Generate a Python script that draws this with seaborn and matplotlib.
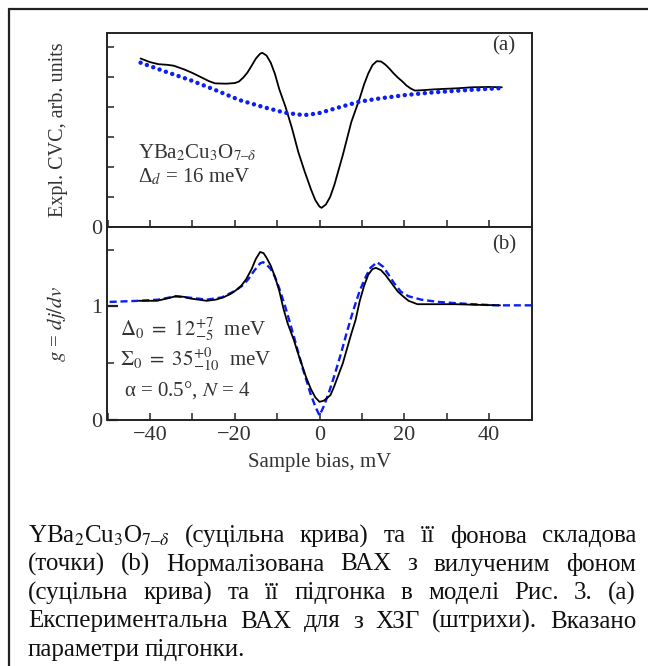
import numpy as np
import pandas as pd
import matplotlib
matplotlib.use("Agg")
import matplotlib.pyplot as plt
import seaborn as sns
from matplotlib.lines import Line2D
from matplotlib.ticker import MultipleLocator

# panel (a): experimental CVC and its background
bias_a = [-42.2, -40, -38, -36, -34.4, -32, -30, -28, -26, -24.6, -22, -20, -19, -18, -17, -16,
          -15, -14, -13.5, -12.5, -11.5, -10.5, -9.5, -8, -6.5, -5, -3.5, -2, -1, 0, 0.5, 1.5,
          2.5, 3.5, 4.5, 5.5, 6.5, 7.5, 8.5, 9.5, 10.5, 11.5, 12.5, 13.5, 14.5, 15.5, 16.5,
          17.5, 18.5, 19.5, 20.5, 21.5, 22.5, 24, 27, 30, 33, 36, 40, 43]
cvc_a = [5.62, 5.50, 5.43, 5.41, 5.38, 5.26, 5.14, 5.00, 4.86, 4.79, 4.78, 4.80, 4.85, 4.98,
         5.15, 5.38, 5.62, 5.78, 5.81, 5.72, 5.48, 5.10, 4.60, 4.00, 3.30, 2.50, 1.85, 1.25,
         0.90, 0.68, 0.64, 0.75, 1.00, 1.40, 1.90, 2.40, 2.95, 3.50, 3.90, 4.30, 4.75, 5.12,
         5.40, 5.53, 5.52, 5.42, 5.28, 5.12, 4.98, 4.86, 4.72, 4.62, 4.55, 4.56, 4.59, 4.61,
         4.63, 4.66, 4.67, 4.66]
bias_bg = [-42.2, -36.3, -30.5, -24.6, -18.8, -13, -8.1, -3.7, -0.3, 4.6, 9.4, 14.3, 20.2,
           26, 31.8, 37.7, 42.6]
cvc_bg = [5.48, 5.18, 4.90, 4.57, 4.23, 3.99, 3.81, 3.73, 3.79, 3.99, 4.18, 4.29, 4.40,
          4.48, 4.54, 4.59, 4.63]

# panel (b): normalized conductance and model fit
bias_b = [-42.6, -38.3, -36, -33.9, -32, -30.5, -28.5, -26.6, -24.5, -22.7, -21, -19.8, -18.5,
          -17.3, -16, -15, -14, -13.2, -12.5, -11.5, -10.5, -9.5, -8.5, -7.5, -6.1, -5, -4,
          -3.2, -2, -1, 0, 1, 2, 2.6, 3.5, 4.5, 5.5, 6.5, 7.5, 8.5, 9.5, 10.5, 11.5, 12.5,
          13.3, 14.5, 15.5, 16.5, 17.5, 18.5, 19.7, 21, 23.1, 27, 31.8, 37, 42.6]
g_b = [1.05, 1.05, 1.07, 1.09, 1.085, 1.07, 1.06, 1.05, 1.06, 1.08, 1.11, 1.14, 1.18, 1.24,
       1.33, 1.42, 1.48, 1.47, 1.43, 1.36, 1.26, 1.14, 0.98, 0.85, 0.71, 0.58, 0.47, 0.38,
       0.27, 0.20, 0.16, 0.17, 0.20, 0.22, 0.30, 0.40, 0.50, 0.63, 0.76, 0.88, 1.05, 1.18,
       1.28, 1.33, 1.34, 1.32, 1.28, 1.23, 1.18, 1.13, 1.09, 1.05, 1.02, 1.02, 1.02, 1.015,
       1.01]
bias_fit = [-49.5, -42.6, -38, -33.9, -30, -26.6, -23, -19.8, -18, -16.8, -15.5, -14, -13.3,
            -12.5, -11.5, -10.5, -9.5, -8.1, -7, -6, -5.2, -4, -3, -2.2, -1, 0, 1, 2.2, 3.5,
            5.1, 6.5, 8, 9.5, 10.9, 12, 13.6, 15, 16.3, 17.5, 19.2, 21, 24, 28, 31.8, 36,
            41.6, 49.9]
g_fit = [1.04, 1.05, 1.06, 1.09, 1.075, 1.06, 1.08, 1.14, 1.19, 1.24, 1.31, 1.38, 1.39, 1.37,
         1.33, 1.26, 1.16, 1.00, 0.86, 0.73, 0.62, 0.46, 0.34, 0.24, 0.12, 0.04, 0.12, 0.24,
         0.39, 0.59, 0.78, 0.97, 1.14, 1.26, 1.34, 1.39, 1.35, 1.28, 1.21, 1.13, 1.09, 1.06,
         1.04, 1.03, 1.02, 1.01, 1.01]

caption_lines = [
    "YBa$_2$Cu$_3$O$_{7–δ}$ (суцільна крива) та її фонова складова",
    "(точки) (b) Нормалізована ВАХ з вилученим фоном",
    "(суцільна крива) та її підгонка в моделі Рис. 3. (a)",
    "Експериментальна ВАХ для з ХЗГ (штрихи). Вказано",
    "параметри підгонки.",
]

sns.set_style("ticks")
plt.rcParams["font.family"] = ["Liberation Serif", "DejaVu Serif"]
plt.rcParams["mathtext.fontset"] = "stix"

W, H = 648, 666
fig = plt.figure(figsize=(W / 100, H / 100), dpi=100)
fig.patch.set_facecolor("white")

ax_a = fig.add_axes([107.5 / W, 1 - 227 / H, 424 / W, 194 / H])
ax_b = fig.add_axes([107.5 / W, 1 - 420 / H, 424 / W, 193 / H])

blue = "#0a1ef5"
sns.lineplot(x=bias_a, y=cvc_a, ax=ax_a, color="black", lw=1.3, sort=False, estimator=None)
sns.lineplot(x=bias_bg, y=cvc_bg, ax=ax_a, color=blue, lw=3.2, sort=False, estimator=None,
             linestyle=(0, (0.01, 1.5)), dash_capstyle="round")
sns.lineplot(x=bias_fit, y=g_fit, ax=ax_b, color=blue, lw=1.7, sort=False, estimator=None,
             linestyle=(0, (3, 1.6)))
sns.lineplot(x=bias_b, y=g_b, ax=ax_b, color="black", lw=1.3, sort=False, estimator=None)

for ax in (ax_a, ax_b):
    ax.set_xlim(-50, 50)
    for s in ax.spines.values():
        s.set_visible(True)
        s.set_linewidth(1.4)
        s.set_color("#222222")
    ax.tick_params(direction="in", length=5, width=1.1, labelsize=16, colors="#222222",
                   labelcolor="#333333", pad=4)
    ax.tick_params(which="minor", direction="in", length=5, width=1.1)
    ax.xaxis.set_minor_locator(MultipleLocator(10))

ax_a.set_ylim(0, 6.47)
ax_a.set_yticks(range(7))
ax_a.set_yticklabels(["0"] + [""] * 6)
ax_a.set_xticks([-40, -20, 0, 20, 40])
ax_a.set_xticklabels([])
ax_a.set_xlabel("")
ax_a.set_ylabel("Expl. CVC, arb. units", fontsize=14.5, color="#333333")
ax_a.yaxis.set_label_coords(-0.093, 0.5)

ax_b.set_ylim(0, 1.70)
ax_b.set_yticks([0, 1])
ax_b.yaxis.set_minor_locator(MultipleLocator(0.5))
ax_b.tick_params(axis="y", which="major", length=8, width=1.6)
ax_b.set_xticks([-40, -20, 0, 20, 40])
ax_b.set_xticklabels(["−40", "−20", "0", "20", "40"])
ax_b.set_xlabel("Sample bias, mV", fontsize=15, color="#333333")
ax_b.xaxis.set_label_coords(0.5, -0.17)
ax_b.set_ylabel("$g$ = $dj/dv$", fontsize=15, color="#333333")
ax_b.yaxis.set_label_coords(-0.093, 0.5)

txt = dict(fontsize=15, color="#333333")
ax_a.text(0.935, 0.935, "(a)", transform=ax_a.transAxes, ha="center", va="center", **txt)
ax_b.text(0.935, 0.905, "(b)", transform=ax_b.transAxes, ha="center", va="center", **txt)
ax_a.text(0.072, 0.38, "YBa$_2$Cu$_3$O$_{7–δ}$", transform=ax_a.transAxes,
          ha="left", va="center", **txt)
ax_a.text(0.072, 0.26, "Δ$_{d}$ = 16 meV", transform=ax_a.transAxes,
          ha="left", va="center", **txt)
ax_b.text(0.03, 0.466, r"$\Delta_0\ =\ 12^{+7}_{-5}$  meV", transform=ax_b.transAxes,
          ha="left", va="center", **txt)
ax_b.text(0.03, 0.31, r"$\Sigma_0\ =\ 35^{+0}_{-10}$  meV", transform=ax_b.transAxes,
          ha="left", va="center", **txt)
ax_b.text(0.04, 0.155, "α = 0.5°, $N$ = 4", transform=ax_b.transAxes,
          ha="left", va="center", **txt)

# page frame (left and top rule)
fig.add_artist(Line2D([8.5 / W, 8.5 / W], [0, 1 - 8.5 / H], color="#222222", lw=1.6))
fig.add_artist(Line2D([8.5 / W, 1], [1 - 8.5 / H, 1 - 8.5 / H], color="#222222", lw=1.6))

# justified caption
renderer = fig.canvas.get_renderer()
left_px, right_px = 28, 636
y0, dy = 536, 28.5
for i, line in enumerate(caption_lines):
    words = line.split(" ")
    y = 1 - (y0 + i * dy) / H
    arts = [fig.text(0, y, w, fontsize=18, color="#111111", va="center", ha="left")
            for w in words]
    widths = [a.get_window_extent(renderer).width for a in arts]
    last = i == len(caption_lines) - 1
    gap = 5.0 if last else max(3.0, (right_px - left_px - sum(widths)) / (len(words) - 1))
    x = left_px
    for a, w in zip(arts, widths):
        a.set_x(x / W)
        x += w + gap

fig.savefig("out.png", dpi=100, facecolor="white")
